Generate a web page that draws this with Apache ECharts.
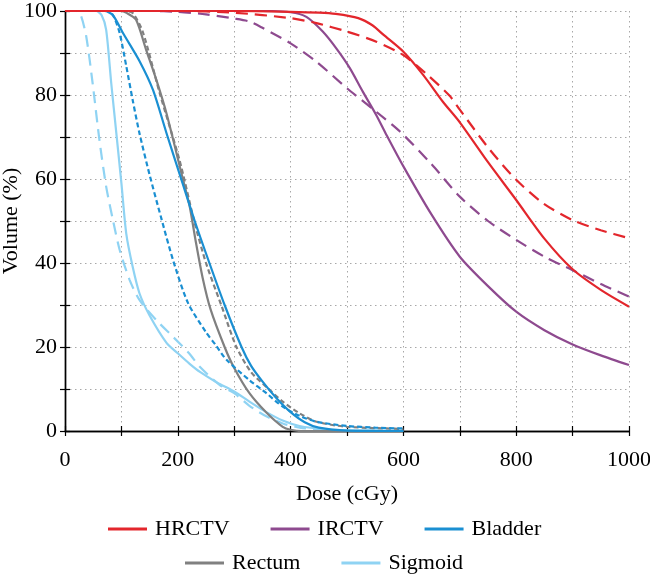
<!DOCTYPE html>
<html>
<head>
<meta charset="utf-8">
<script src="https://cdn.jsdelivr.net/npm/echarts@6/dist/echarts.min.js"></script>
<style>
html,body{margin:0;padding:0;background:#fff;}
#chart{width:650px;height:574px;}
</style>
</head>
<body>
<div id="chart"></div>
<script>
// Dose (cGy) vs Volume (%) pairs
const hrctvSolid = [[0,100],[300,100],[400,99.8],[450,99.6],[480,99.3],[520,98.3],[545,96.6],[565,94.3],[600,90.3],[635,84.8],[670,78.4],[700,73.5],[750,64],[800,55],[850,45.8],[900,38.5],[950,33.6],[1000,29.6]];
const hrctvDashed = [[0,100],[200,100],[300,99.6],[400,98.3],[446,97.1],[500,95.1],[552,92.7],[600,89.5],[641,85],[682,79.8],[700,76.5],[753,67],[800,59.8],[848,54.2],[900,50.2],[950,47.8],[1000,45.9]];
const irctvSolid = [[0,100],[350,100],[400,99.7],[428,98.6],[457,95.1],[481,91.1],[505,86.4],[528,80.8],[552,75.2],[570,70.5],[600,63],[650,51.5],[700,41.5],[750,34.5],[800,28.4],[850,24],[900,20.6],[950,18],[1000,15.7]];
const irctvDashed = [[0,100],[150,100],[200,99.8],[250,99.2],[300,98.2],[327,97.5],[350,96],[400,92.3],[446,87.9],[500,81.6],[552,76],[594,71.3],[650,63.5],[700,55.8],[750,50],[800,45.5],[850,41.5],[900,38.3],[950,35],[1000,32]];
const bladderSolid = [[0,100],[70,100],[85,99],[103,94.7],[132,88.1],[156,81.2],[180,70.9],[206,60],[230,50],[256,40],[283,30],[313,20],[330,15.5],[350,11.8],[375,7.8],[400,4.5],[425,2.1],[450,0.8],[500,0.1],[600,0]];
const bladderDotted = [[0,100],[78,100],[87,98.5],[97,94.7],[108.6,86.9],[120,78.8],[132,70.9],[150,61],[170,51],[192,40.5],[218,30.5],[250,23.5],[267,20.5],[286,17],[327,12.1],[357,9],[386,5.8],[416,3.6],[446,2.2],[500,1.2],[550,0.8],[600,0.6]];
const rectumSolid = [[0,100],[98,100],[110,99.5],[126,97.9],[144,90.7],[162,83.6],[180,75.6],[209,60],[221,53.5],[232,45],[244,36.5],[258,29],[283,20],[300,15],[327,9],[357,4.4],[386,1],[400,0.3],[420,0],[600,0]];
const rectumDotted = [[0,100],[105,100],[120,99.5],[138,95],[168,80.4],[203,64.5],[229,50],[250,40],[277,30],[304,20],[330,14],[357,10.5],[386,7],[416,4.2],[446,2.2],[500,1],[600,0.5]];
const sigmoidSolid = [[0,100],[55,100],[65,99],[73,95.5],[82,82.8],[91,70.9],[100,59],[108.6,47],[120,39.1],[132,32.8],[150,27.5],[180,21],[200,18.5],[221,16],[240,14],[270,11.5],[300,9.4],[327,7],[357,4.5],[386,2.5],[416,1.2],[463,0.4],[500,0.2],[600,0.1]];
const sigmoidDashed = [[0,100],[20,100],[28,99],[37.6,94],[49,82.8],[61,69.3],[73,58.2],[85,50.2],[97,43.1],[114.5,36],[132,31.2],[162,26.4],[191,22.5],[220,18.5],[239,15.3],[274,11],[300,9],[327,6],[357,3.5],[386,1.8],[416,0.8],[450,0.3],[500,0.1]];

const legendRow1 = ['HRCTV','IRCTV','Bladder'];
const legendRow2 = ['Rectum','Sigmoid'];

const colors = {HRCTV:'#e3262c', IRCTV:'#8e4a8f', Bladder:'#1a8fd2', Rectum:'#808080', Sigmoid:'#8fd3f3'};
const FONT = 'Liberation Serif';
const longDash = [12,7];
const shortDash = [5,3];

function line(name, data, color, dash, z){
  return {name:name, type:'line', data:data, xAxisIndex:0, yAxisIndex:0, showSymbol:false, symbol:'none',
    smooth:0.25, z:z||2,
    lineStyle:{color:color, width:2.2, type: dash || 'solid'}, itemStyle:{color:color}, emphasis:{disabled:true}};
}

const chart = echarts.init(document.getElementById('chart'), null, {renderer:'canvas'});
const tickStyle = {inside:true, length:5, lineStyle:{color:'#000', width:1.2}};
const axisLineStyle = {lineStyle:{color:'#000', width:1.4}};
const gridLine = {show:true, lineStyle:{color:'#a8a8a8', width:1, type:[1.5,3.5]}};

chart.setOption({
  animation:false,
  backgroundColor:'#fff',
  grid:{left:65, right:21, top:11, bottom:143, containLabel:false, outerBoundsMode:'none'},
  legend:[
    {data:legendRow1, left:103, top:513, icon:'rect', itemWidth:39, itemHeight:3, itemGap:41,
     textStyle:{fontFamily:FONT, fontSize:22, color:'#000', padding:[0,0,0,3]}, selectedMode:false},
    {data:legendRow2, left:180, top:547, icon:'rect', itemWidth:39, itemHeight:3, itemGap:41,
     textStyle:{fontFamily:FONT, fontSize:22, color:'#000', padding:[0,0,0,3]}, selectedMode:false}
  ],
  xAxis:[
    {type:'value', min:0, max:1000, interval:100, position:'bottom',
     name:'Dose (cGy)', nameLocation:'middle', nameGap:52,
     nameTextStyle:{fontFamily:FONT, fontSize:22, color:'#000'},
     axisLine:axisLineStyle, axisTick:tickStyle,
     axisLabel:{fontFamily:FONT, fontSize:22, color:'#000', margin:18,
       formatter:function(v){return v % 200 === 0 ? String(v) : '';}},
     splitLine:gridLine},
    {type:'value', min:0, max:1000, interval:100, position:'top',
     axisLine:axisLineStyle, axisTick:tickStyle, axisLabel:{show:false}, splitLine:{show:false}}
  ],
  yAxis:[
    {type:'value', min:0, max:100, interval:10, position:'left',
     name:'Volume (%)', nameLocation:'middle', nameGap:43, nameMoveOverlap:false,
     nameTextStyle:{fontFamily:FONT, fontSize:22, color:'#000'},
     axisLine:axisLineStyle, axisTick:tickStyle,
     axisLabel:{fontFamily:FONT, fontSize:22, color:'#000', margin:8,
       formatter:function(v){return v % 20 === 0 ? String(v) : '';}},
     splitLine:gridLine},
    {type:'value', min:0, max:100, interval:10, position:'right',
     axisLine:axisLineStyle, axisTick:tickStyle, axisLabel:{show:false}, splitLine:{show:false}}
  ],
  series:[
    line('Sigmoid', sigmoidSolid, colors.Sigmoid),
    line('Sigmoid dashed', sigmoidDashed, colors.Sigmoid, longDash),
    line('Rectum', rectumSolid, colors.Rectum),
    line('Rectum dotted', rectumDotted, colors.Rectum, shortDash),
    line('Bladder', bladderSolid, colors.Bladder),
    line('Bladder dotted', bladderDotted, colors.Bladder, shortDash),
    line('IRCTV', irctvSolid, colors.IRCTV),
    line('IRCTV dashed', irctvDashed, colors.IRCTV, longDash),
    line('HRCTV', hrctvSolid, colors.HRCTV),
    line('HRCTV dashed', hrctvDashed, colors.HRCTV, longDash)
  ]
});
</script>
</body>
</html>
